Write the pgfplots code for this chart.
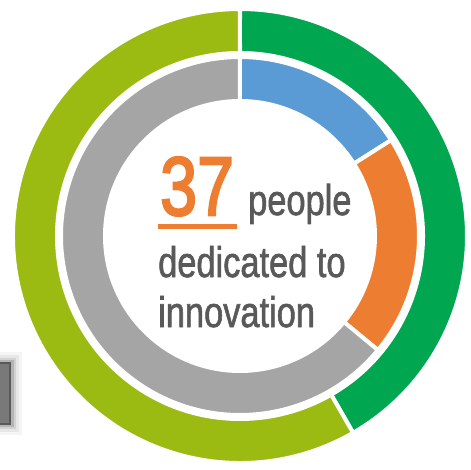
\documentclass[border=0pt]{standalone}
\usepackage{pgfplots}
\pgfplotsset{compat=1.18}
\usepackage{pgfplotstable}
\usepackage{graphicx}
\usepackage{fontspec}
\setmainfont{Liberation Sans}
\newfontfamily\heavy[FakeBold=1.6]{Liberation Sans}
\newfontfamily\heavier[FakeBold=3]{Liberation Sans}

\definecolor{cgreen}{HTML}{00A650}
\definecolor{clime}{HTML}{9BBB12}
\definecolor{cblue}{HTML}{5B9BD5}
\definecolor{corange}{HTML}{ED7D31}
\definecolor{cgray}{HTML}{A5A5A5}
\definecolor{ctext}{HTML}{595959}

% share of each segment, in percent, clockwise from 12 o'clock
\pgfplotstableread{
value color
41.7 cgreen
58.3 clime
}\outerdata
\pgfplotstableread{
value color
16 cblue
20 corange
64 cgray
}\innerdata

% #1 table, #2 inner radius, #3 outer radius
\newcommand{\drawring}[3]{%
  \pgfplotstablegetrowsof{#1}%
  \pgfmathtruncatemacro{\nrows}{\pgfplotsretval-1}%
  \def\angstart{90}%
  \pgfplotsforeachungrouped \i in {0,...,\nrows}{%
    \pgfplotstablegetelem{\i}{value}\of{#1}\let\val\pgfplotsretval
    \pgfplotstablegetelem{\i}{color}\of{#1}\let\col\pgfplotsretval
    \pgfmathsetmacro{\angend}{\angstart-3.6*\val}%
    \edef\cmd{\noexpand\fill[\col, draw=white, line width=4pt]
      (axis cs:{#3*cos(\angstart)},{#3*sin(\angstart)})
      arc[start angle=\angstart, end angle=\angend, radius=#3pt]
      -- (axis cs:{#2*cos(\angend)},{#2*sin(\angend)})
      arc[start angle=\angend, end angle=\angstart, radius=#2pt] -- cycle;}%
    \cmd
    \let\angstart\angend
  }%
}

\begin{document}
\begin{tikzpicture}
\begin{axis}[
    x=1pt, y=1pt,
    disabledatascaling,
    xmin=-240, xmax=231,
    ymin=-233, ymax=236,
    hide axis,
]
% partly visible box at the left edge, with a soft shadow
\fill[black, opacity=0.04] (axis cs:-240,-116) rectangle (axis cs:-218,-199);
\fill[black, opacity=0.06] (axis cs:-240,-119) rectangle (axis cs:-221,-196);
\fill[black, opacity=0.09] (axis cs:-240,-122) rectangle (axis cs:-224,-193);
\fill[black, opacity=0.14] (axis cs:-240,-124) rectangle (axis cs:-226,-191);
\fill[gray!95!black] (axis cs:-240,-126) rectangle (axis cs:-229,-189);
\draw[ctext, line width=2pt] (axis cs:-240,-127) -- (axis cs:-230,-127)
  -- (axis cs:-230,-188) -- (axis cs:-240,-188);

\drawring{\outerdata}{183}{227}
\drawring{\innerdata}{135}{179}

\node[anchor=base west, inner sep=0, text=corange] at (axis cs:-80,21)
  {\scalebox{0.8}[1]{\heavier\fontsize{83}{83}\selectfont 37}};
\fill[corange] (axis cs:-82,12.5) rectangle (axis cs:-3,7.5);
\node[anchor=base west, inner sep=0, text=ctext] at (axis cs:8,21)
  {\scalebox{0.8}[1]{\heavy\fontsize{43}{43}\selectfont people}};
\node[anchor=base west, inner sep=0, text=ctext] at (axis cs:-82,-41)
  {\scalebox{0.8}[1]{\heavy\fontsize{43}{43}\selectfont dedicated to}};
\node[anchor=base west, inner sep=0, text=ctext] at (axis cs:-82,-91)
  {\scalebox{0.8}[1]{\heavy\fontsize{43}{43}\selectfont innovation}};
\end{axis}
\pgfresetboundingbox
\useasboundingbox (current axis.south west) rectangle (current axis.north east);
\end{tikzpicture}
\end{document}
